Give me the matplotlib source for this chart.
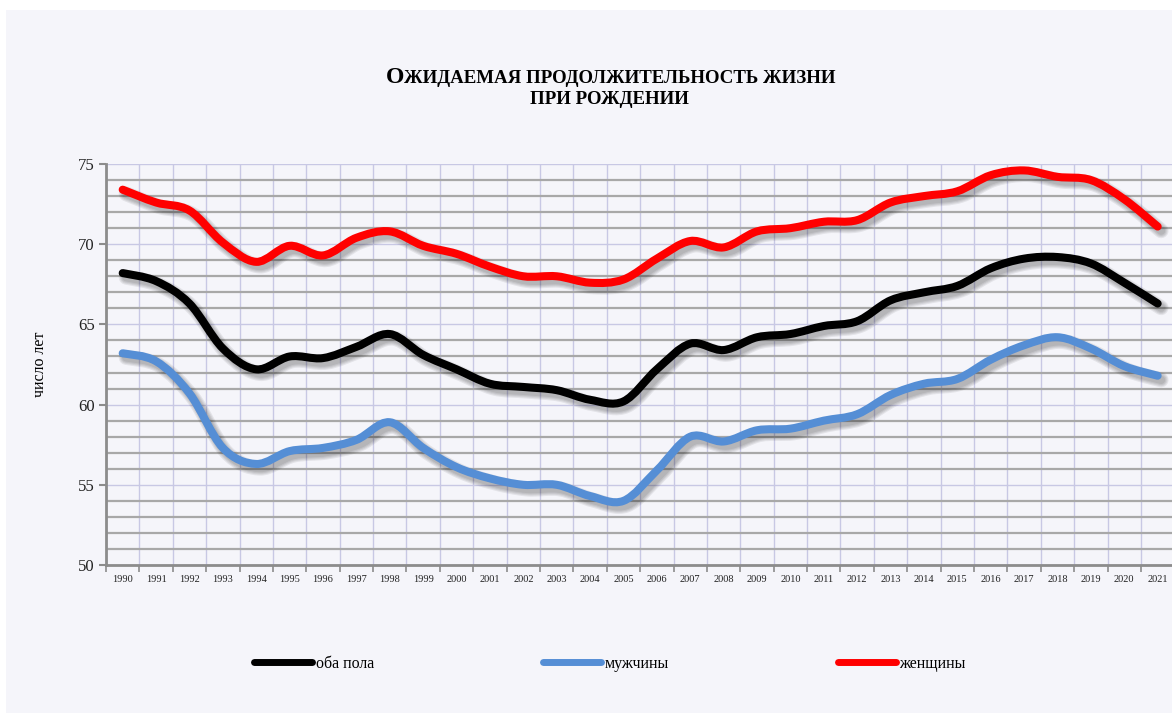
import numpy as np
import matplotlib
matplotlib.use("Agg")
import matplotlib.pyplot as plt
from matplotlib.path import Path
from matplotlib.patches import PathPatch, Rectangle
from matplotlib.lines import Line2D
import matplotlib.patheffects as pe

years = list(range(1990, 2022))

both = [68.2, 67.7, 66.3, 63.5, 62.2, 63.0, 62.9, 63.6, 64.4, 63.1, 62.2, 61.3,
        61.1, 60.9, 60.3, 60.2, 62.2, 63.8, 63.4, 64.2, 64.4, 64.9, 65.2, 66.5,
        67.0, 67.4, 68.5, 69.1, 69.2, 68.8, 67.6, 66.3]
men = [63.2, 62.7, 60.7, 57.3, 56.3, 57.1, 57.3, 57.8, 58.9, 57.3, 56.1, 55.4,
       55.0, 55.0, 54.3, 54.0, 55.9, 58.0, 57.7, 58.4, 58.5, 59.0, 59.4, 60.6,
       61.3, 61.6, 62.8, 63.7, 64.2, 63.5, 62.4, 61.8]
women = [73.4, 72.6, 72.1, 70.1, 68.9, 69.9, 69.3, 70.4, 70.8, 69.9, 69.4, 68.6,
         68.0, 68.0, 67.6, 67.8, 69.1, 70.2, 69.8, 70.8, 71.0, 71.4, 71.5, 72.6,
         73.0, 73.3, 74.3, 74.6, 74.2, 74.0, 72.8, 71.1]

series_names = ["оба пола", "мужчины", "женщины"]
series_colors = ["#000000", "#558ed5", "#ff0000"]

SERIF = ["Liberation Serif", "DejaVu Serif"]
plt.rcParams["font.family"] = SERIF


def smooth_path(xs, ys):
    # Excel style smoothed line: cubic Bezier through every point
    pts = np.column_stack([xs, ys]).astype(float)
    n = len(pts)
    verts = [pts[0]]
    codes = [Path.MOVETO]
    for i in range(n - 1):
        p0 = pts[i - 1] if i > 0 else pts[i]
        p1 = pts[i]
        p2 = pts[i + 1]
        p3 = pts[i + 2] if i + 2 < n else pts[i + 1]
        c1 = p1 + (p2 - p0) / 6.0
        c2 = p2 - (p3 - p1) / 6.0
        verts += [c1, c2, p2]
        codes += [Path.CURVE4] * 3
    return Path(verts, codes)


fig = plt.figure(figsize=(11.72, 7.13), dpi=100, facecolor="white")
fig.patches.append(Rectangle((6 / 1172, 0), 1, 1 - 10 / 713, transform=fig.transFigure,
                             facecolor="#f5f5fa", edgecolor="none", zorder=-10))

ax = fig.add_axes([106 / 1172, 1 - 565 / 713, 1 - 106 / 1172 + 0.002, (565 - 164) / 713])
ax.set_facecolor("#f5f5fa")

x = np.arange(len(years))
ax.set_xlim(-0.5, len(years) - 0.5)
ax.set_ylim(50, 75)

# grid
ax.set_yticks(np.arange(50, 76, 5))
ax.set_yticks(np.arange(50, 76, 1), minor=True)
ax.set_xticks(np.arange(-0.5, len(years), 1))
ax.set_xticks(x, minor=True)
ax.set_xticklabels([])
ax.set_xticklabels([str(y) for y in years], minor=True)
ax.grid(axis="y", which="minor", color="#a8a8a8", linewidth=1.6, zorder=0)
ax.grid(axis="y", which="major", color="#c8c8e4", linewidth=1.0, zorder=0.5)
ax.grid(axis="x", which="major", color="#c8c8e4", linewidth=1.0, zorder=0.5)
ax.set_axisbelow(True)

for s in ["top", "right"]:
    ax.spines[s].set_visible(False)
for s in ["left", "bottom"]:
    ax.spines[s].set_color("#8c8c8c")
    ax.spines[s].set_linewidth(2.0)

ax.tick_params(axis="y", which="major", length=5, width=1.5, color="#8c8c8c",
               labelsize=12, labelcolor="#222222", pad=3)
ax.tick_params(axis="y", which="minor", length=0)
ax.tick_params(axis="x", which="major", length=5, width=1.2, color="#8c8c8c")
ax.tick_params(axis="x", which="minor", length=0, labelsize=7.5, labelcolor="#222222", pad=7)

ax.set_ylabel("число лет", fontsize=11.5, labelpad=22)

data = [both, men, women]
handles = []
for vals, name, col in zip(data, series_names, series_colors):
    shadows = [pe.SimpleLineShadow(offset=(2.5, -3), shadow_color="#000000", alpha=0.07,
                                   linewidth=6 + k * 1.6) for k in range(4)]
    patch = PathPatch(smooth_path(x, vals), facecolor="none", edgecolor=col,
                      linewidth=5.8, capstyle="round", joinstyle="round", zorder=3,
                      path_effects=shadows + [pe.Normal()])
    ax.add_patch(patch)
    handles.append(Line2D([], [], color=col, linewidth=5, solid_capstyle="round", label=name))

fig.legend(handles=handles, loc="center", bbox_to_anchor=(610 / 1172, 1 - 664 / 713),
           ncol=3, frameon=False, fontsize=11.5, handlelength=3.6, handletextpad=0.25,
           columnspacing=10.6)

# small caps title
fig.text(404 / 1172, 1 - 83 / 713, "О", fontsize=17, fontweight="bold", ha="right", va="baseline")
fig.text(404 / 1172, 1 - 83 / 713, "ЖИДАЕМАЯ ПРОДОЛЖИТЕЛЬНОСТЬ ЖИЗНИ", fontsize=13.6,
         fontweight="bold", ha="left", va="baseline")
fig.text(609 / 1172, 1 - 104 / 713, "ПРИ РОЖДЕНИИ", fontsize=13.6, fontweight="bold",
         ha="center", va="baseline")

fig.savefig("out.png", dpi=100, facecolor=fig.get_facecolor())
